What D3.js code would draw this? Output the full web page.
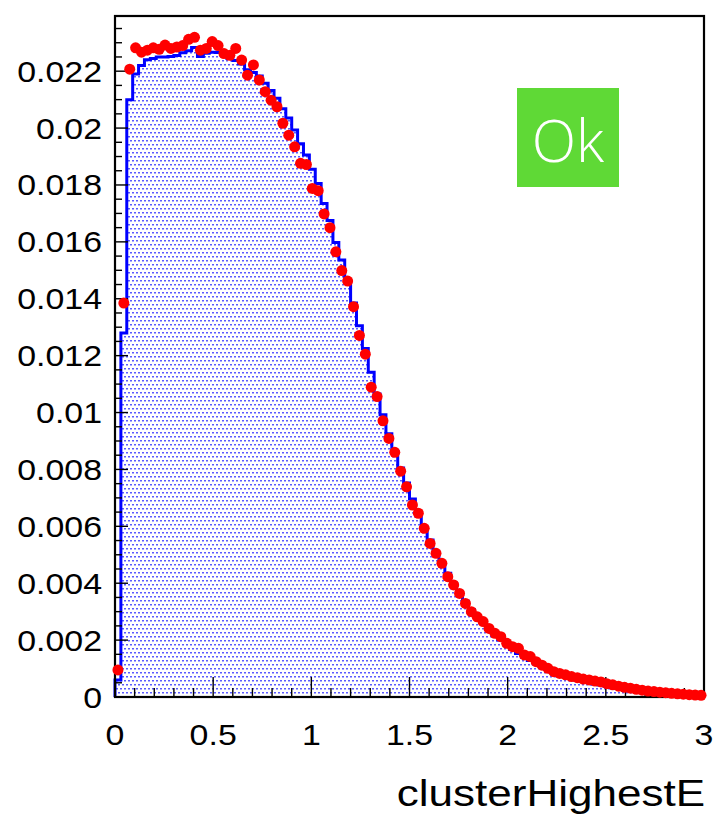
<!DOCTYPE html>
<html><head><meta charset="utf-8">
<script src="https://cdn.jsdelivr.net/npm/d3@7"></script>
<style>html,body{margin:0;padding:0;background:#fff;}svg{display:block;}</style>
</head><body>
<svg id="c" width="717" height="816"></svg>
<script>
// ---- data ----
const binLow = 0, binHigh = 3, nBins = 100;
const refHist = [0.0006,0.0128,0.0210,0.0219,0.0222,0.0224,0.02245,0.0225,0.0225,0.02252,
0.02255,0.02265,0.02272,0.02283,0.02252,0.02263,0.02267,0.02266,0.02257,0.02245,
0.02238,0.02225,0.02205,0.02195,0.02183,0.02158,0.02132,0.02105,0.02068,0.02035,
0.01993,0.01945,0.01905,0.01855,0.01805,0.01735,0.01675,0.01598,0.01536,0.01462,
0.01385,0.01305,0.01225,0.01142,0.01065,0.00992,0.00925,0.00862,0.00805,0.00752,
0.00696,0.00645,0.00598,0.00552,0.0051,0.00472,0.00435,0.004,0.00368,0.00337,
0.00308,0.00283,0.0026,0.00238,0.00218,0.002,0.00183,0.00167,0.00153,0.0014,
0.00128,0.00117,0.00107,0.00097,0.00089,0.00081,0.00074,0.00067,0.00061,0.00056,
0.00051,0.00046,0.00042,0.00038,0.00035,0.00032,0.00029,0.00026,0.00024,0.00022,
0.0002,0.00018,0.00016,0.00014,0.00013,0.00012,0.0001,0.00009,0.00008,0.00007];
const dataPoints = [0.00095,0.01385,0.02207,0.02282,0.02267,0.02274,0.02282,0.02277,0.02292,0.0228,
0.02285,0.0229,0.02312,0.02319,0.02274,0.0228,0.02304,0.0229,0.02262,0.02256,
0.0228,0.02239,0.02186,0.02222,0.02169,0.02128,0.02098,0.02075,0.02017,0.01975,
0.01934,0.01876,0.01872,0.01788,0.0178,0.01698,0.0165,0.01565,0.01499,0.01462,
0.01372,0.01271,0.01205,0.01089,0.01056,0.00971,0.00909,0.0086,0.00794,0.00739,
0.00675,0.00646,0.00593,0.0054,0.00505,0.0047,0.00423,0.00394,0.00364,0.00329,
0.003,0.00282,0.00265,0.00241,0.00224,0.00212,0.00189,0.00177,0.00171,0.00148,
0.00142,0.00124,0.00112,0.00101,0.00089,0.00083,0.00078,0.00072,0.00068,0.00063,
0.0006,0.00056,0.00053,0.00047,0.00043,0.00038,0.00034,0.00031,0.00027,0.00024,
0.00021,0.00019,0.00017,0.00015,0.00013,0.00011,0.0001,0.00008,0.00007,0.00006];
const xTickLabels = ["0","0.5","1","1.5","2","2.5","3"];
const yTickLabels = ["0","0.002","0.004","0.006","0.008","0.01","0.012","0.014","0.016","0.018","0.02","0.022"];
const xTitle = "clusterHighestE";
const badgeText = "Ok";
const yMax = 0.02394;

// ---- layout ----
const L = 115, R = 704, T = 16, B = 697;
const svg = d3.select("#c");
const x = d3.scaleLinear().domain([binLow, binHigh]).range([L, R]);
const y = d3.scaleLinear().domain([0, yMax]).range([B, T]);
const bw = (binHigh - binLow) / nBins;

// pattern fill
const defs = svg.append("defs");
const pat = defs.append("pattern").attr("id","dots").attr("patternUnits","userSpaceOnUse")
  .attr("width",4).attr("height",8);
pat.append("rect").attr("x",0).attr("y",0).attr("width",2).attr("height",1.5).attr("fill","#5a5aff");
pat.append("rect").attr("x",2).attr("y",4).attr("width",2).attr("height",1.5).attr("fill","#5a5aff");

// step path
const pts = [[x(binLow), y(0)]];
refHist.forEach((v,i)=>{ pts.push([x(binLow+i*bw), y(v)]); pts.push([x(binLow+(i+1)*bw), y(v)]); });
pts.push([x(binHigh), y(0)]);
const line = d3.line();
svg.append("path").attr("d", line(pts)+"Z").attr("fill","url(#dots)").attr("stroke","none");
svg.append("path").attr("d", line(pts.slice(0, pts.length-1))).attr("fill","none")
  .attr("stroke","#0000ff").attr("stroke-width",3).attr("stroke-linejoin","miter");

// frame
svg.append("rect").attr("x",L).attr("y",T).attr("width",R-L).attr("height",B-T)
  .attr("fill","none").attr("stroke","#000").attr("stroke-width",2.2);

// x ticks
const xMinor = d3.range(0, 31).map(i=>i*0.1);
svg.append("g").selectAll("line").data(xMinor).join("line")
  .attr("x1",d=>x(d)).attr("x2",d=>x(d)).attr("y1",B)
  .attr("y2",(d,i)=> i%5===0 ? B-20 : B-9)
  .attr("stroke","#000").attr("stroke-width",1.4);
// y ticks
const yMinor = d3.range(0, 48).map(i=>i*0.0005).filter(v=>v<=yMax);
svg.append("g").selectAll("line").data(yMinor).join("line")
  .attr("y1",d=>y(d)).attr("y2",d=>y(d)).attr("x1",L)
  .attr("x2",(d,i)=> i%4===0 ? L+13 : L+7)
  .attr("stroke","#000").attr("stroke-width",1.4);

const font = "'Liberation Sans', Arial, Helvetica, sans-serif";
// x labels
svg.append("g").selectAll("text").data(xTickLabels).join("text")
  .attr("transform",d=>`translate(${x(+d)},745) scale(1.13,1)`)
  .attr("text-anchor","middle").attr("font-family",font).attr("font-size",30)
  .attr("fill","#000").text(d=>d);
// y labels
svg.append("g").selectAll("text").data(yTickLabels).join("text")
  .attr("transform",d=>`translate(102,${y(+d)+10.5}) scale(1.13,1)`)
  .attr("text-anchor","end").attr("font-family",font).attr("font-size",30)
  .attr("fill","#000").text(d=>d);
// title
svg.append("text").attr("transform","translate(705,806) scale(1.19,1)")
  .attr("text-anchor","end").attr("font-family",font).attr("font-size",37)
  .attr("fill","#000").text(xTitle);

// data points
svg.append("g").selectAll("circle").data(dataPoints).join("circle")
  .attr("cx",(d,i)=>x(binLow+(i+0.5)*bw)).attr("cy",d=>y(d)).attr("r",5.5)
  .attr("fill","#ff0000");

// badge
svg.append("rect").attr("x",517).attr("y",88).attr("width",102).attr("height",99).attr("fill","#5fd936");
svg.append("text").attr("x",568).attr("y",162).attr("text-anchor","middle")
  .attr("font-family","'Open Sans', sans-serif").attr("font-weight",300).attr("font-size",58)
  .attr("fill","#fff").text(badgeText);
</script>
</body></html>
